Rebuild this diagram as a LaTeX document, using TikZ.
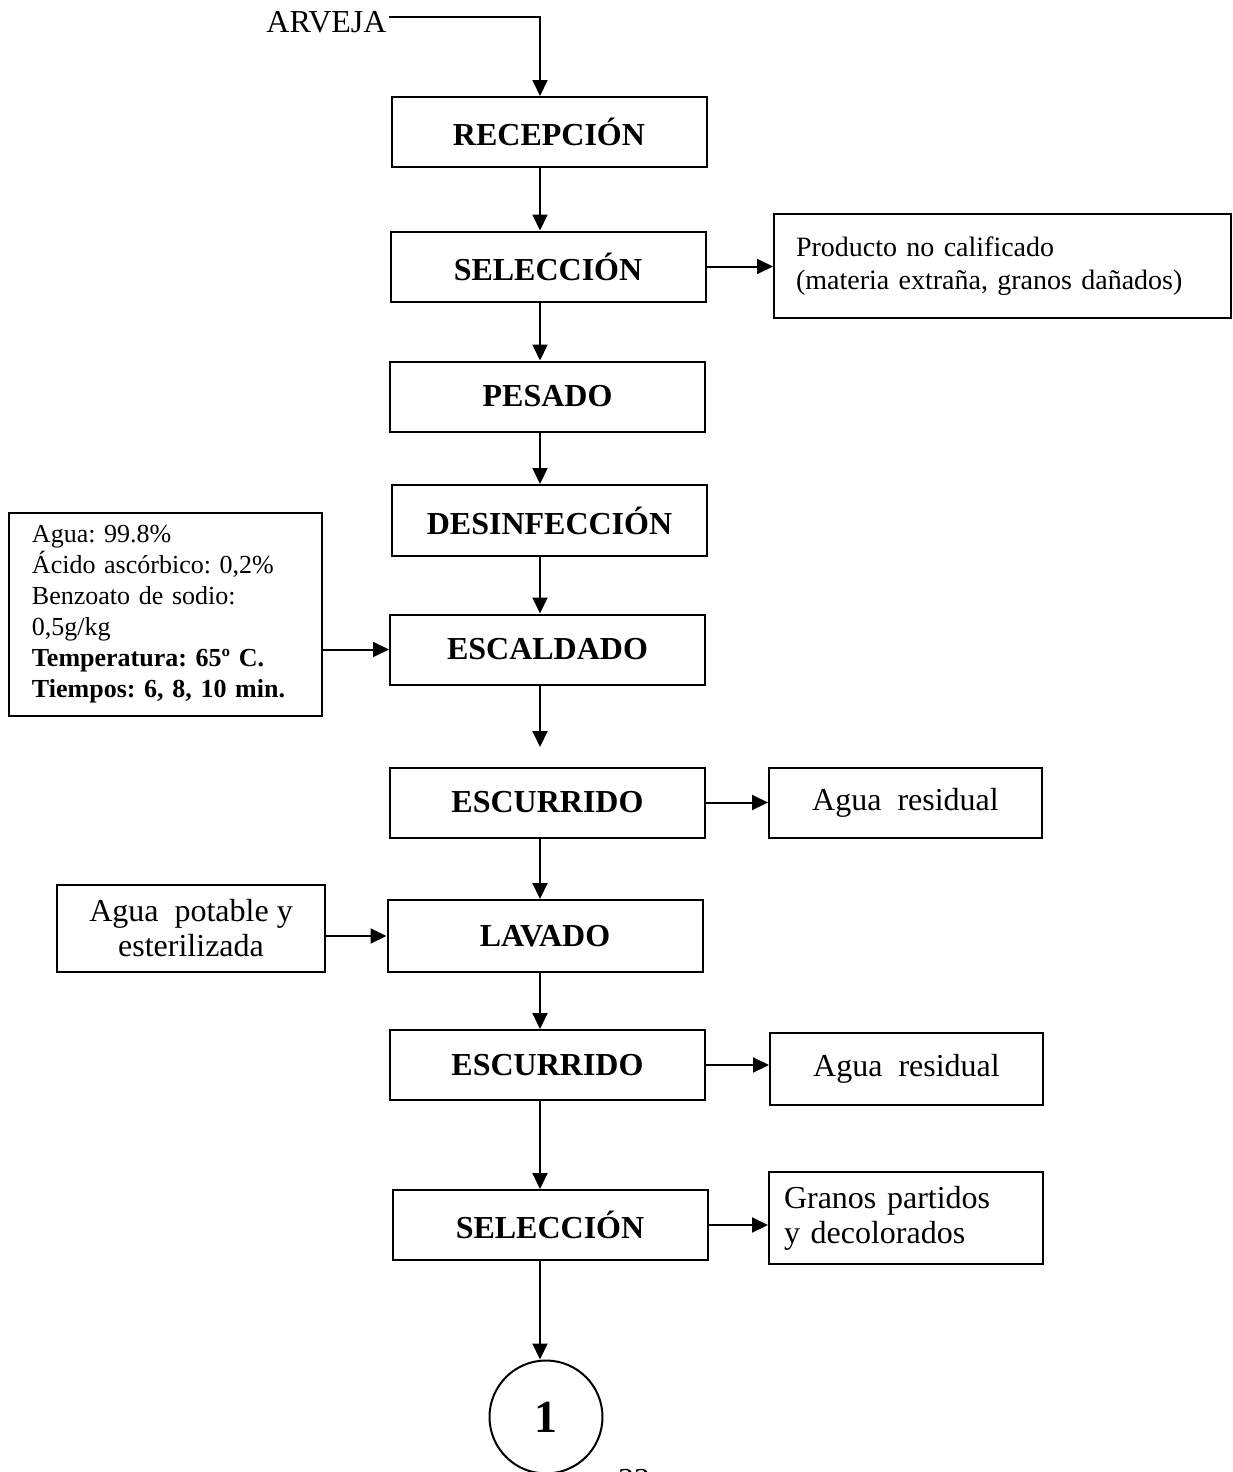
\documentclass[tikz,border=0pt]{standalone}
\usepackage{fontspec}
\setmainfont{Liberation Serif}
\frenchspacing
\usetikzlibrary{arrows.meta}
\tikzset{
  % a process step on the main line
  etapa/.style = {draw, rectangle, line width=1pt, inner sep=0pt,
                  font=\fontsize{16}{19}\selectfont\bfseries,
                  minimum width=157.5pt, minimum height=35pt},
  % a side box: what goes in or comes out
  nota/.style  = {draw, rectangle, line width=1pt, inner sep=0pt,
                  align=center, font=\fontsize{16}{17.5}\selectfont},
  % a flow arrow
  fl/.style    = {-{Triangle[length=8pt,width=7.5pt]}, line width=1pt},
  % the off-page connector
  conn/.style  = {draw, circle, line width=1pt, inner sep=0pt,
                  minimum size=56.5pt, font=\fontsize{23}{23}\selectfont\bfseries},
  % plain text
  txt/.style   = {inner sep=1pt, font=\fontsize{16}{16}\selectfont},
}

\begin{document}
\begin{tikzpicture}[x=0.5pt, y=-0.5pt]
  \useasboundingbox (0,0) rectangle (1232,1472);
  \clip (0,0) rectangle (1232,1472);
  % main line
  \node[txt] (arv) at (326.5,22) {ARVEJA};
  \node[etapa] (rec)   at (549,132)    {RECEPCIÓN};
  \node[etapa] (sel1)  at (548,266.5)  {SELECCIÓN};
  \node[etapa] (pes)   at (547.5,396.5){PESADO};
  \node[etapa, minimum height=35.5pt] (des) at (549.5,520.5) {DESINFECCIÓN};
  \node[etapa] (esc)   at (547.5,649.5){ESCALDADO};
  \node[etapa] (escu1) at (547.5,802.5){ESCURRIDO};
  \node[etapa, minimum height=36pt] (lav) at (545,936) {LAVADO};
  \node[etapa] (escu2) at (547.5,1065) {ESCURRIDO};
  \node[etapa] (sel2)  at (550,1225)   {SELECCIÓN};
  \node[conn]  (uno)   at (546,1417)   {1};
  \node[txt, anchor=base] (pag) at (634,1490) {32};
  \coordinate (codo)  at (540,17);
  \coordinate (hueco) at (540,747);
  % side boxes
  \node[nota, minimum width=228.5pt, minimum height=52pt, text width=206.5pt,
        align=left, font=\fontsize{14}{16.5}\selectfont] (prod) at (1002.5,266)
        {Producto no calificado\\(materia extraña, granos dañados)\\[-4pt]};
  \node[nota, minimum width=156.5pt, minimum height=101.5pt, text width=133.5pt,
        align=left, font=\fontsize{13}{15.5}\selectfont] (mix) at (165.5,614.5)
        {Agua: 99.8\%\\Ácido ascórbico: 0,2\%\\Benzoato de sodio:\\0,5g/kg\\
         \textbf{Temperatura: 65º C.}\\\textbf{Tiempos: 6, 8, 10 min.}};
  \node[nota, minimum width=136.5pt, minimum height=35pt] (res1) at (905.5,803)
        {Agua\ \ residual};
  \node[nota, minimum width=134pt, minimum height=43.5pt] (agua) at (191,928.5)
        {Agua\ \ potable y\\esterilizada};
  \node[nota, minimum width=136.5pt, minimum height=36pt] (res2) at (906.5,1069)
        {Agua\ \ residual};
  \node[nota, minimum width=137pt, minimum height=46pt, text width=122pt,
        align=left] (gra) at (906,1218)
        {Granos partidos\\y decolorados};
  % arrows down the line
  \draw[fl] (arv.east |- codo) -- (codo) -- (rec.north -| codo);
  \draw[fl] (rec.south -| codo)   -- (sel1.north -| codo);
  \draw[fl] (sel1.south -| codo)  -- (pes.north -| codo);
  \draw[fl] (pes.south -| codo)   -- (des.north -| codo);
  \draw[fl] (des.south -| codo)   -- (esc.north -| codo);
  \draw[fl] (esc.south -| codo)   -- (hueco);
  \draw[fl] (escu1.south -| codo) -- (lav.north -| codo);
  \draw[fl] (lav.south -| codo)   -- (escu2.north -| codo);
  \draw[fl] (escu2.south -| codo) -- (sel2.north -| codo);
  \draw[fl] (sel2.south -| codo)  -- (uno.north -| codo);
  % arrows to and from the sides
  \draw[fl] (sel1.east) -- (prod.west |- sel1.east);
  \draw[fl] (mix.east |- esc.west) -- (esc.west);
  \draw[fl] (escu1.east) -- (res1.west |- escu1.east);
  \draw[fl] (agua.east |- lav.west) -- (lav.west);
  \draw[fl] (escu2.east) -- (res2.west |- escu2.east);
  \draw[fl] (sel2.east) -- (gra.west |- sel2.east);
\end{tikzpicture}
\end{document}
